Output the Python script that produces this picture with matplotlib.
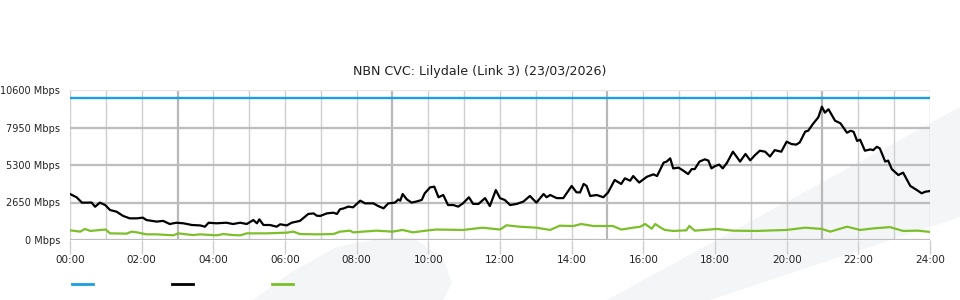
import matplotlib.pyplot as plt
from matplotlib.lines import Line2D
from matplotlib.patches import Polygon

# -------------------------------
# Data
# -------------------------------
capacity_times = ["00:00", "24:00"]
capacity_mbps = [10000, 10000]

down_times = [
    "00:00", "00:11", "00:20", "00:28", "00:36", "00:42", "00:50", "00:59", "01:07", "01:18",
    "01:29", "01:40", "01:52", "02:02", "02:08", "02:25", "02:36", "02:47", "02:58", "03:10",
    "03:24", "03:38", "03:46", "03:52", "04:05", "04:22", "04:33", "04:45", "04:56", "05:07",
    "05:13", "05:17", "05:24", "05:35", "05:46", "05:52", "06:03", "06:11", "06:25", "06:39",
    "06:48", "06:53", "06:59", "07:10", "07:21", "07:27", "07:32", "07:38", "07:46", "07:54",
    "08:06", "08:14", "08:28", "08:36", "08:45", "08:53", "09:04", "09:10", "09:13", "09:17",
    "09:24", "09:32", "09:41", "09:49", "09:54", "10:03", "10:10", "10:17", "10:25", "10:33",
    "10:42", "10:50", "10:58", "11:08", "11:15", "11:24", "11:35", "11:43", "11:53", "12:00",
    "12:08", "12:17", "12:28", "12:39", "12:50", "13:01", "13:13", "13:18", "13:24", "13:35",
    "13:46", "14:00", "14:08", "14:14", "14:20", "14:25", "14:31", "14:42", "14:53", "15:01",
    "15:12", "15:23", "15:29", "15:38", "15:43", "15:53", "16:06", "16:17", "16:23", "16:34",
    "16:39", "16:45", "16:50", "16:59", "17:07", "17:15", "17:21", "17:26", "17:34", "17:43",
    "17:49", "17:54", "18:00", "18:07", "18:13", "18:20", "18:30", "18:37", "18:42", "18:51",
    "18:59", "19:07", "19:15", "19:24", "19:32", "19:40", "19:51", "20:00", "20:08", "20:16",
    "20:22", "20:31", "20:36", "20:44", "20:53", "20:59", "21:04", "21:10", "21:21", "21:30",
    "21:41", "21:47", "21:52", "21:58", "22:03", "22:11", "22:20", "22:25", "22:31", "22:36",
    "22:45", "22:50", "22:56", "23:07", "23:15", "23:21", "23:27", "23:38", "23:46", "23:52",
    "24:00",
]
down_mbps = [
    3250, 3020, 2640, 2640, 2650, 2350, 2640, 2470, 2120, 2000,
    1700, 1530, 1530, 1580, 1410, 1300, 1350, 1130, 1220, 1180,
    1060, 1030, 940, 1220, 1180, 1220, 1130, 1220, 1130, 1410,
    1180, 1460, 1060, 1060, 940, 1110, 1030, 1220, 1350, 1840,
    1880, 1720, 1700, 1880, 1930, 1840, 2170, 2230, 2360, 2310,
    2780, 2590, 2590, 2400, 2240, 2590, 2640, 2870, 2780, 3250,
    2870, 2640, 2730, 2830, 3300, 3720, 3770, 3020, 3180, 2470,
    2470, 2360, 2590, 3020, 2550, 2550, 2960, 2400, 3530, 2960,
    2830, 2470, 2550, 2710, 3110, 2640, 3250, 3020, 3180, 2960,
    2960, 3820, 3370, 3360, 3960, 3820, 3110, 3180, 3020, 3360,
    4240, 3960, 4360, 4190, 4520, 4060, 4470, 4640, 4520, 5470,
    5540, 5770, 5060, 5110, 4900, 4660, 5010, 5010, 5540, 5700,
    5610, 5060, 5220, 5330, 5060, 5450, 6240, 5840, 5540, 6080,
    5630, 6000, 6310, 6240, 5900, 6350, 6240, 6950, 6780, 6740,
    6900, 7660, 7720, 8200, 8670, 9420, 9000, 9240, 8430, 8250,
    7580, 7720, 7650, 7000, 7090, 6310, 6400, 6350, 6590, 6470,
    5540, 5610, 5010, 4590, 4760, 4290, 3820, 3530, 3300, 3410,
    3460,
]

up_times = [
    "00:00", "00:17", "00:25", "00:34", "00:45", "01:00", "01:07", "01:35", "01:43", "01:52",
    "02:08", "02:25", "02:53", "03:01", "03:15", "03:26", "03:38", "04:05", "04:17", "04:33",
    "04:45", "04:56", "05:30", "06:03", "06:14", "06:25", "06:53", "07:21", "07:32", "07:49",
    "07:54", "08:33", "09:00", "09:17", "09:34", "09:56", "10:13", "10:58", "11:31", "12:00",
    "12:11", "12:33", "13:01", "13:24", "13:40", "14:03", "14:16", "14:36", "15:09", "15:23",
    "15:43", "15:55", "16:03", "16:14", "16:20", "16:28", "16:36", "16:50", "17:12", "17:17",
    "17:26", "18:03", "18:30", "19:09", "20:00", "20:31", "20:59", "21:13", "21:41", "22:03",
    "22:25", "22:53", "23:15", "23:40", "24:00",
]
up_mbps = [
    685, 590, 780, 640, 685, 740, 470, 450, 590, 540,
    400, 400, 330, 470, 400, 350, 400, 330, 420, 350,
    330, 470, 470, 520, 590, 420, 400, 420, 590, 660,
    540, 660, 590, 710, 540, 660, 740, 710, 870, 740,
    1040, 940, 870, 710, 1010, 990, 1130, 990, 990, 740,
    870, 940, 1130, 800, 1130, 900, 710, 640, 685, 990,
    660, 780, 660, 640, 710, 870, 780, 590, 940, 710,
    820, 910, 640, 660, 570,
]

y_ticks = [0, 2650, 5300, 7950, 10600]
title = "NBN CVC: Lilydale (Link 3) (23/03/2026)"


def to_hours(times):
    out = []
    for t in times:
        h, m = t.split(":")
        out.append(int(h) + int(m) / 60)
    return out


BLUE = "#1a9fe0"
BLACK = "#000000"
GREEN = "#7cbf2a"
TEXT = "#222222"

fig = plt.figure(figsize=(9.6, 3.0), dpi=100)
fig.patch.set_facecolor("white")

# faint watermark shapes behind the chart (pixel outlines -> figure fraction)
wm_shapes = [
    [(253, 300), (290, 273), (337, 247), (383, 238), (413, 238),
     (443, 258), (452, 283), (443, 300)],
    [(607, 300), (960, 107), (960, 217), (710, 300)],
]
for pts in wm_shapes:
    fig.add_artist(Polygon([(x / 960, 1 - y / 300) for x, y in pts], closed=True,
                           transform=fig.transFigure, facecolor="#f4f5f7",
                           edgecolor="none", zorder=-5))

ax = fig.add_axes([70 / 960, 0.2, 860 / 960, 0.5])
ax.set_zorder(1)
ax.patch.set_alpha(0)

# grid: every hour, heavier every 6 hours from 03:00
for h in range(25):
    heavy = h % 6 == 3
    ax.axvline(h, color="#b8b8b8" if heavy else "#cfcfcf",
               lw=1.6 if heavy else 1.0, zorder=1)
for v in y_ticks[:-1]:
    ax.axhline(v, color="#bdbdbd", lw=1.6, zorder=1)
ax.axhline(y_ticks[-1], color="#e6e6e6", lw=1.0, zorder=1)

ax.plot(to_hours(capacity_times), capacity_mbps, color=BLUE, lw=1.7, zorder=3)
ax.plot(to_hours(down_times), down_mbps, color=BLACK, lw=1.6, zorder=4)
ax.plot(to_hours(up_times), up_mbps, color=GREEN, lw=1.6, zorder=3)

ax.set_xlim(0, 24)
ax.set_ylim(0, 10600)
ax.set_xticks(range(0, 25, 2))
ax.set_xticklabels([f"{h:02d}:00" for h in range(0, 25, 2)])
ax.set_yticks(y_ticks)
ax.set_yticklabels([f"{v} Mbps" for v in y_ticks])
for s in ax.spines.values():
    s.set_visible(False)
ax.tick_params(axis="x", length=10, width=1.0, color="#cfcfcf", labelsize=7.5,
               pad=1, labelcolor=TEXT)
ax.tick_params(axis="y", length=0, pad=7, labelsize=7.0, labelcolor=TEXT)

fig.text(0.5, 1 - 71 / 300, title, ha="center", va="center", fontsize=9.1, color=TEXT)

handles = [Line2D([], [], color=c, lw=2) for c in (BLUE, BLACK, GREEN)]
fig.legend(handles, ["", "", ""], loc="center left", bbox_to_anchor=(62 / 960, 1 - 285 / 300),
           ncol=3, frameon=False, handlelength=1.9, handletextpad=0.8,
           columnspacing=6.3, fontsize=8)

fig.savefig("out.png", dpi=100)
